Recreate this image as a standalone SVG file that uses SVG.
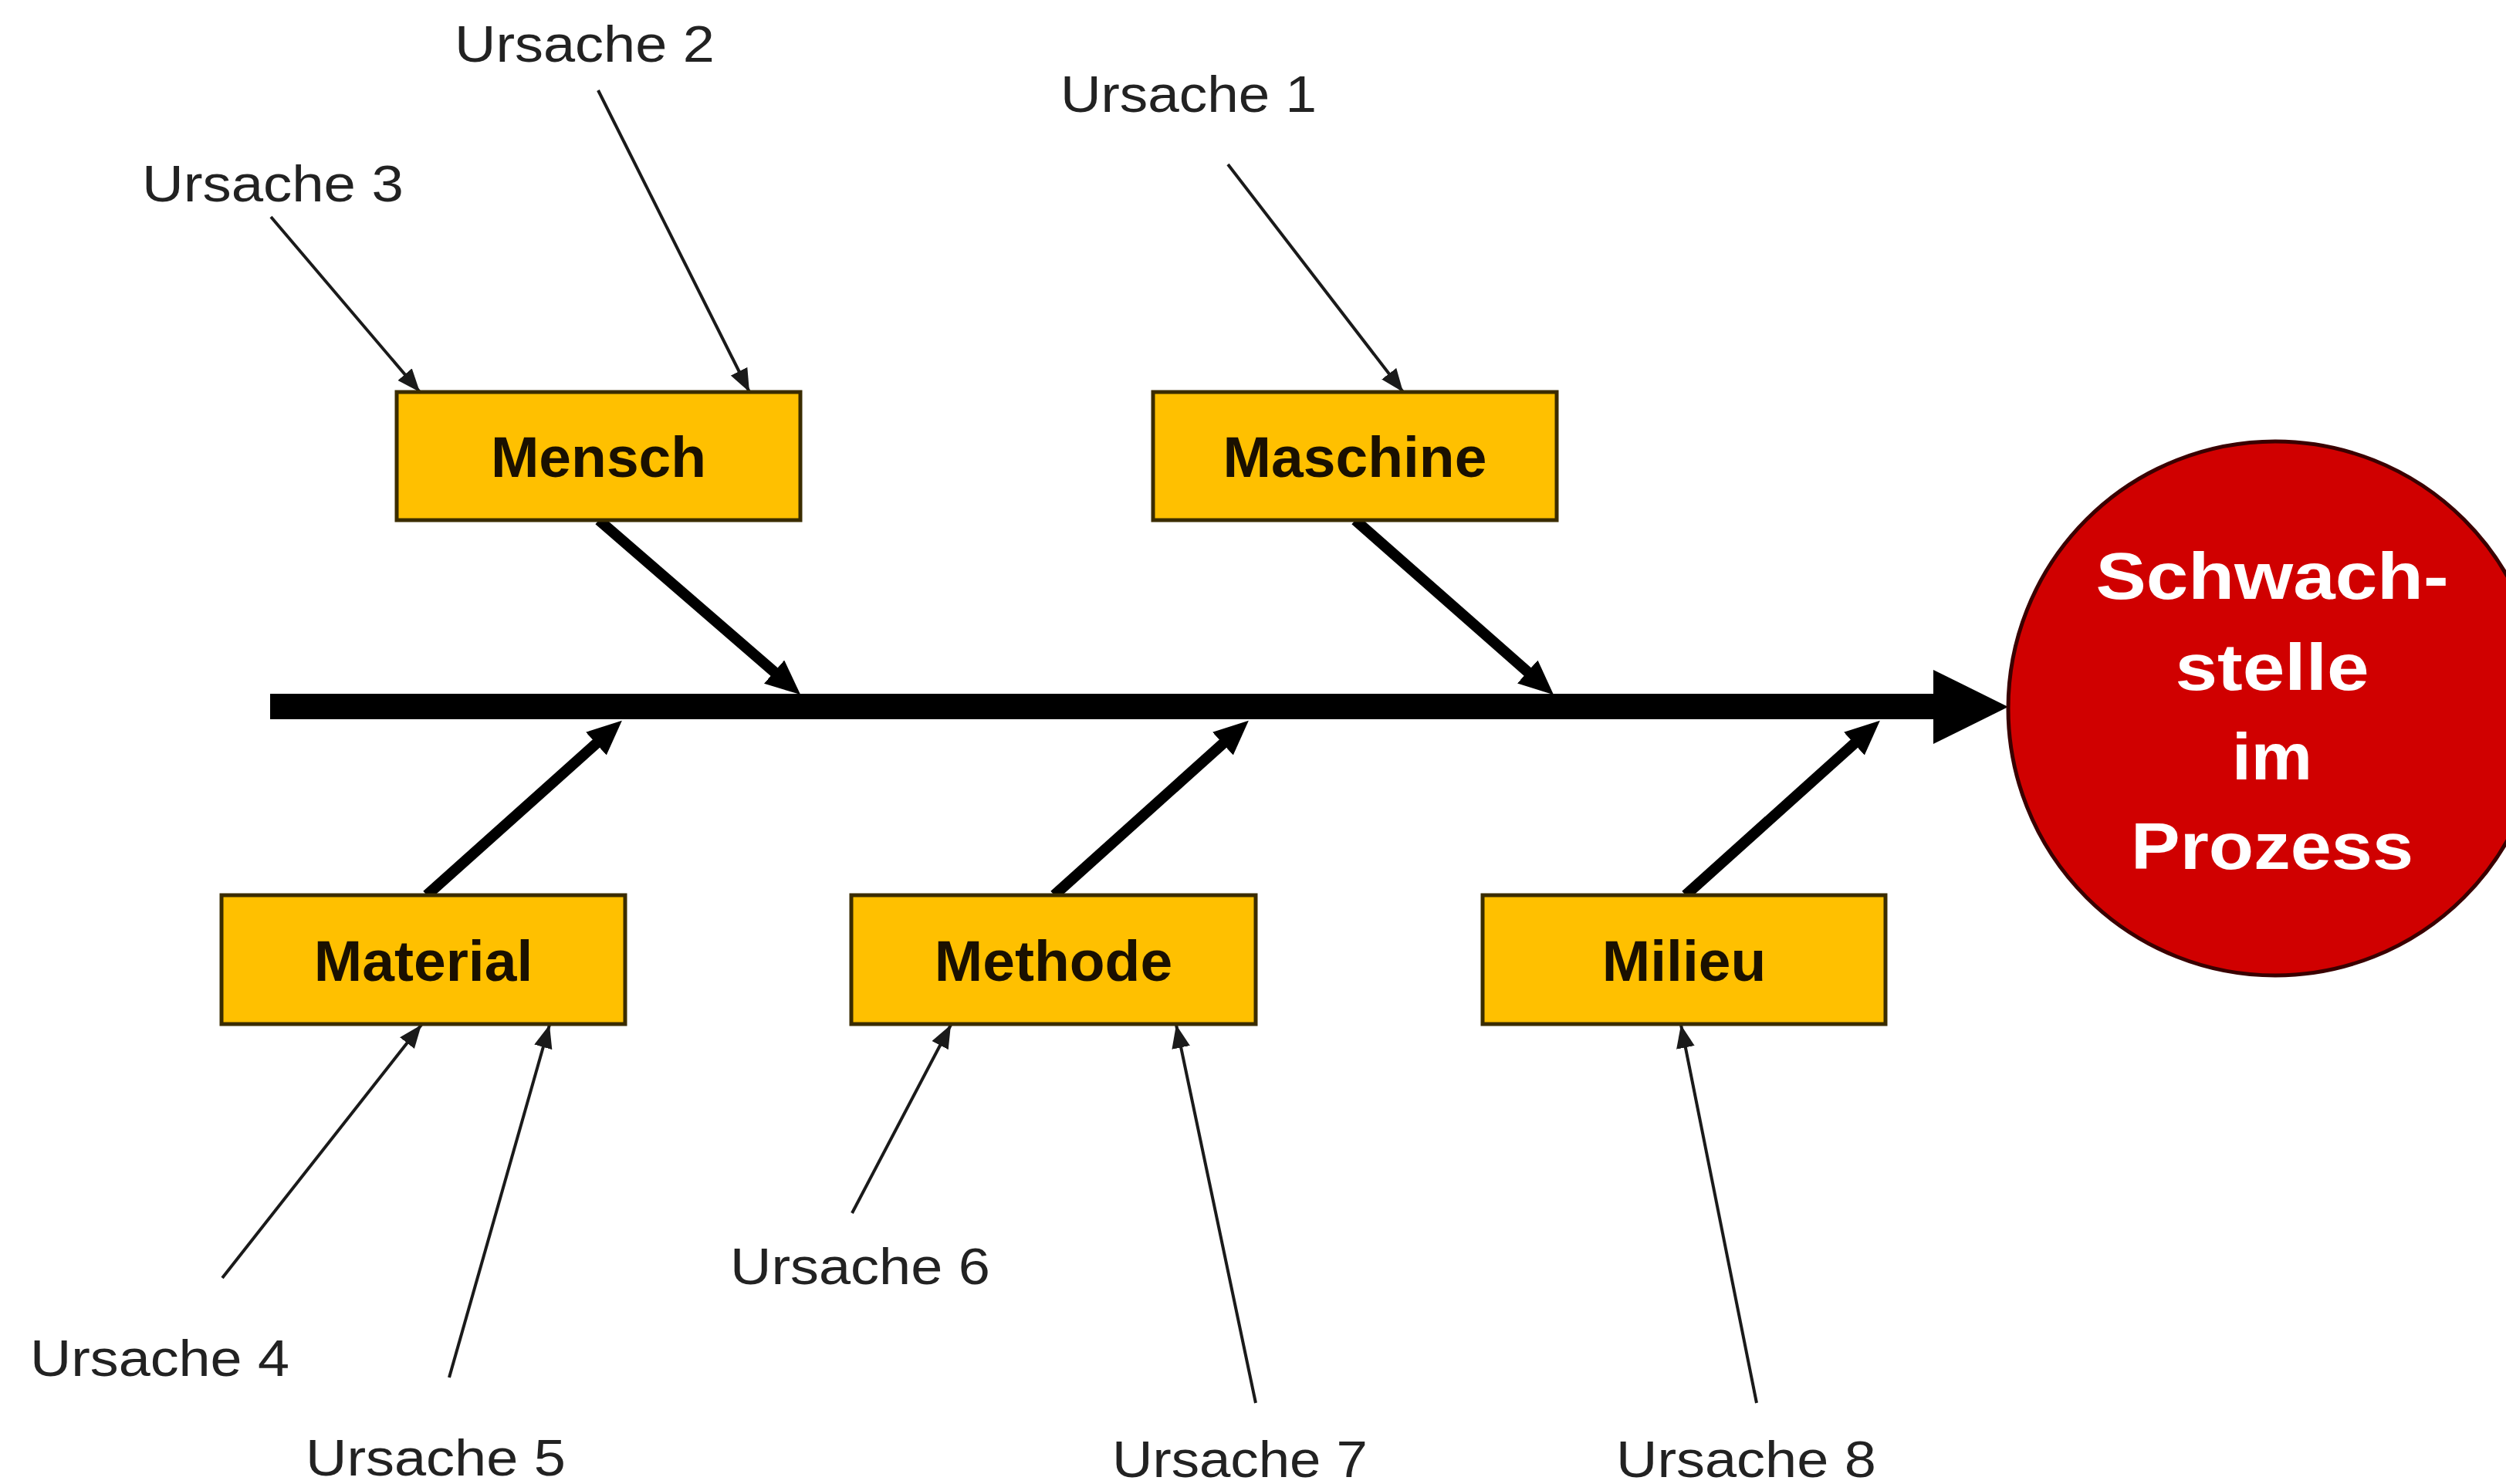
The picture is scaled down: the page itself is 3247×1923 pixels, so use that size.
<svg xmlns="http://www.w3.org/2000/svg" width="3247" height="1923" viewBox="0 0 3247 1923">
  <style>
    .box { fill: #FFC000; stroke: #3a2c00; stroke-width: 5; }
    .boxlabel { font-family: "Liberation Sans", Arial, sans-serif; font-weight: bold; font-size: 75px; fill: #1a1000; text-anchor: middle; }
    .cause { font-family: "Liberation Sans", Arial, sans-serif; font-size: 66px; fill: #222222; }
    .thin { stroke: #1a1a1a; stroke-width: 4; fill: none; marker-end: url(#thinHead); }
    .bold { stroke: #000000; stroke-width: 14; fill: none; marker-end: url(#boldHead); }
    .effect { font-family: "Liberation Sans", Arial, sans-serif; font-weight: bold; font-size: 86px; fill: #ffffff; text-anchor: middle; }
  </style>
  <defs>
    <marker id="thinHead" markerUnits="userSpaceOnUse" viewBox="0 -12 30 24" markerWidth="30" markerHeight="24" refX="30" refY="0" orient="auto">
      <path d="M0,-12 L30,0 L0,12 z" fill="#1a1a1a"/>
    </marker>
    <marker id="boldHead" markerUnits="userSpaceOnUse" viewBox="0 -20 45 40" markerWidth="45" markerHeight="40" refX="25" refY="0" orient="auto">
      <path d="M0,-20 L45,0 L0,20 z" fill="#000000"/>
    </marker>
  </defs>
  <rect x="0" y="0" width="3247" height="1923" fill="#ffffff"/>

  <g id="connectors">
    <!-- spine -->
    <rect x="350" y="899" width="2160" height="33" fill="#000000"/>
    <polygon points="2505,868 2602,916 2505,964" fill="#000000"/>
    <!-- category arrows -->
    <line class="bold" x1="776" y1="674" x2="1022" y2="887"/>
    <line class="bold" x1="1756" y1="674" x2="1998" y2="887"/>
    <line class="bold" x1="553" y1="1160" x2="791" y2="947"/>
    <line class="bold" x1="1366" y1="1160" x2="1603" y2="947"/>
    <line class="bold" x1="2184" y1="1160" x2="2421" y2="947"/>
    <!-- cause arrows -->
    <line class="thin" x1="351" y1="281" x2="544" y2="508"/>
    <line class="thin" x1="775" y1="117" x2="971" y2="508"/>
    <line class="thin" x1="1591" y1="213" x2="1818" y2="508"/>
    <line class="thin" x1="288" y1="1656" x2="546" y2="1328"/>
    <line class="thin" x1="582" y1="1785" x2="712" y2="1328"/>
    <line class="thin" x1="1104" y1="1572" x2="1232" y2="1328"/>
    <line class="thin" x1="1627" y1="1818" x2="1524" y2="1328"/>
    <line class="thin" x1="2276" y1="1818" x2="2178" y2="1328"/>
  </g>

  <g id="mensch">
    <rect class="box" x="514" y="508" width="523" height="166"/>
    <text class="boxlabel" x="775.5" y="618">Mensch</text>
  </g>
  <g id="maschine">
    <rect class="box" x="1494" y="508" width="523" height="166"/>
    <text class="boxlabel" x="1755.5" y="618">Maschine</text>
  </g>
  <g id="material">
    <rect class="box" x="287" y="1160" width="523" height="167"/>
    <text class="boxlabel" x="548.5" y="1271">Material</text>
  </g>
  <g id="methode">
    <rect class="box" x="1103" y="1160" width="524" height="167"/>
    <text class="boxlabel" x="1365" y="1271">Methode</text>
  </g>
  <g id="milieu">
    <rect class="box" x="1921" y="1160" width="522" height="167"/>
    <text class="boxlabel" x="2182" y="1271">Milieu</text>
  </g>

  <g id="effect">
    <circle cx="2948" cy="918" r="346" fill="#D00000" stroke="#3a0000" stroke-width="5"/>
    <text class="effect" x="2944" y="776" textLength="457" lengthAdjust="spacingAndGlyphs">Schwach-</text>
    <text class="effect" x="2944" y="894" textLength="251" lengthAdjust="spacingAndGlyphs">stelle</text>
    <text class="effect" x="2944" y="1010" textLength="104" lengthAdjust="spacingAndGlyphs">im</text>
    <text class="effect" x="2944" y="1126" textLength="366" lengthAdjust="spacingAndGlyphs">Prozess</text>
  </g>

  <g id="cause1"><text class="cause" x="1374" y="145" textLength="332" lengthAdjust="spacingAndGlyphs">Ursache 1</text></g>
  <g id="cause2"><text class="cause" x="589" y="80" textLength="337" lengthAdjust="spacingAndGlyphs">Ursache 2</text></g>
  <g id="cause3"><text class="cause" x="184" y="261" textLength="339" lengthAdjust="spacingAndGlyphs">Ursache 3</text></g>
  <g id="cause4"><text class="cause" x="39" y="1783" textLength="336" lengthAdjust="spacingAndGlyphs">Ursache 4</text></g>
  <g id="cause5"><text class="cause" x="396" y="1912" textLength="337" lengthAdjust="spacingAndGlyphs">Ursache 5</text></g>
  <g id="cause6"><text class="cause" x="946" y="1664" textLength="337" lengthAdjust="spacingAndGlyphs">Ursache 6</text></g>
  <g id="cause7"><text class="cause" x="1441" y="1914" textLength="331" lengthAdjust="spacingAndGlyphs">Ursache 7</text></g>
  <g id="cause8"><text class="cause" x="2094" y="1914" textLength="337" lengthAdjust="spacingAndGlyphs">Ursache 8</text></g>
</svg>
